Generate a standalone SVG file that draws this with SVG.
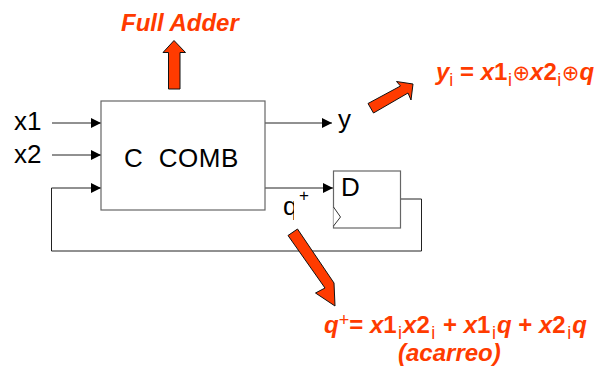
<svg xmlns="http://www.w3.org/2000/svg" width="597" height="370" viewBox="0 0 597 370">
<style>
text{font-family:"Liberation Sans",Arial,sans-serif;white-space:pre}
.k{font-size:26px;fill:#000}
.r{font-weight:bold;font-style:italic;font-size:24px;fill:#ff3b00}
.u{font-style:normal}
.s{font-size:18px;font-style:normal;font-weight:normal}
.o{font-family:"DejaVu Sans",sans-serif;font-style:normal;font-size:21px;font-weight:normal}
.box{fill:#fff;stroke:#666;stroke-width:1.2}
.w{fill:none;stroke:#222;stroke-width:1}
.b{fill:#ff3b00;stroke:#111;stroke-width:1}
</style>
<defs><marker id="a" markerUnits="userSpaceOnUse" markerWidth="11" markerHeight="12" refX="10" refY="6" orient="auto"><path d="M0 1L10 6L0 11Z" fill="#000"/></marker>
<clipPath id="qc"><rect x="280" y="190" width="14" height="30"/></clipPath></defs>
<rect width="597" height="370" fill="#fff"/>
<g id="connectors">
<path class="w" d="M52 123H101" marker-end="url(#a)"/>
<path class="w" d="M52 155H101" marker-end="url(#a)"/>
<path class="w" d="M265 123H332" marker-end="url(#a)"/>
<path class="w" d="M265 188H333" marker-end="url(#a)"/>
<path class="w" d="M400 199H421.500V251H51.500V188H101" marker-end="url(#a)"/>
</g>
<g id="comb"><rect class="box" x="101" y="101" width="164" height="109"/><text class="k" x="124" y="166.500" letter-spacing="0.500">C  COMB</text></g>
<g id="ff"><rect class="box" x="333.500" y="171" width="67" height="57"/><path d="M333.500 207L340.500 217L333.500 226" fill="#fff" stroke="#333"/><text class="k" x="341" y="196">D</text></g>
<g id="x1"><text class="k" x="14" y="130">x1</text></g>
<g id="x2"><text class="k" x="14" y="163">x2</text></g>
<g id="y"><text class="k" x="338" y="128">y</text></g>
<g id="qplus"><text class="k" x="283" y="215" clip-path="url(#qc)">q</text><text x="299" y="201" font-size="17" fill="#000">+</text></g>
<g id="arrow-up"><path class="b" d="M168.500 89V52.500H163L174 40.500L185.500 52.500H180V89Z"/></g>
<g id="arrow-right"><path class="b" d="M368 103.500L373.500 113L408 93L411 100L413 84L396.500 81.500L400.500 86Z"/></g>
<g id="arrow-down"><path class="b" d="M288 235.500L297.500 229L334 283L335 306L315.500 293L325 288Z"/></g>
<g id="full-adder"><text class="r" x="121" y="30.500">Full Adder</text></g>
<g id="eq-y"><text class="r" x="436" y="80">y<tspan class="s" dy="6">i</tspan><tspan class="u" dy="-6"> = </tspan>x<tspan class="u">1</tspan><tspan class="s" dx="0.500" dy="6">i</tspan><tspan class="o" dx="0.500" dy="-6">⊕</tspan>x<tspan class="u">2</tspan><tspan class="s" dx="0.500" dy="6">i</tspan><tspan class="o" dx="0.500" dy="-6">⊕</tspan>q</text></g>
<g id="eq-q"><text class="r" x="324" y="333">q<tspan class="s" font-weight="bold" font-size="14" dy="-7">+</tspan><tspan class="u" dy="7">= </tspan>x<tspan class="u">1</tspan><tspan class="s" dx="1.500" dy="6">i</tspan><tspan dx="1" dy="-6">x</tspan><tspan class="u">2</tspan><tspan class="s" dx="1.500" dy="6">i</tspan><tspan class="u" dx="1" dy="-6"> + </tspan>x<tspan class="u">1</tspan><tspan class="s" dx="1.500" dy="6">i</tspan><tspan dx="1" dy="-6">q</tspan><tspan class="u"> + </tspan>x<tspan class="u">2</tspan><tspan class="s" dx="1.500" dy="6">i</tspan><tspan dx="1" dy="-6">q</tspan></text><text class="r" x="398" y="361">(acarreo)</text></g>
</svg>
